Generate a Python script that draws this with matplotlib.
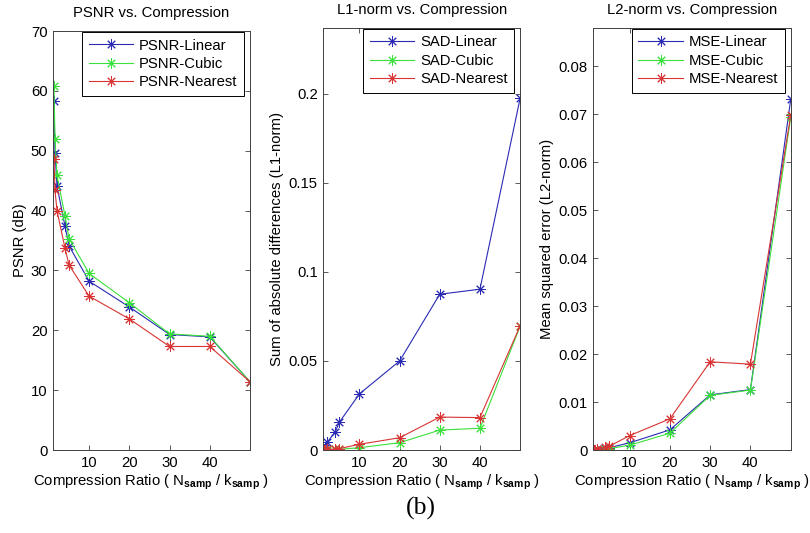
import matplotlib
matplotlib.use("Agg")
import matplotlib.pyplot as plt

plt.rcParams['font.family'] = ['Liberation Sans', 'DejaVu Sans']
plt.rcParams['mathtext.fontset'] = 'custom'
plt.rcParams['mathtext.rm'] = 'Liberation Sans'
plt.rcParams['mathtext.it'] = 'Liberation Sans:italic'
plt.rcParams['mathtext.bf'] = 'Liberation Sans:bold'

# compression ratios (N_samp / k_samp)
ratio = [1.25, 1.5, 2, 4, 5, 10, 20, 30, 40, 50]
x_ticks = [10, 20, 30, 40]

# PSNR in dB
psnr_linear = [58.3, 49.7, 44.1, 37.4, 34.1, 28.2, 23.9, 19.3, 18.9, 11.4]
psnr_cubic = [60.9, 51.9, 45.9, 39.1, 35.3, 29.5, 24.6, 19.4, 19.0, 11.4]
psnr_nearest = [48.6, 43.4, 40.0, 33.7, 30.9, 25.7, 21.9, 17.3, 17.3, 11.4]

# sum of absolute differences (L1-norm)
sad_linear = [0.0004, 0.0011, 0.0044, 0.0103, 0.0156, 0.0315, 0.0500, 0.0875, 0.0903, 0.1975]
sad_cubic = [0.0001, 0.0001, 0.0002, 0.0003, 0.0004, 0.0013, 0.0041, 0.0112, 0.0122, 0.0695]
sad_nearest = [0.0001, 0.0002, 0.0003, 0.0006, 0.0008, 0.0032, 0.0069, 0.0185, 0.0182, 0.0697]

# mean squared error (L2-norm)
mse_linear = [0.0001, 0.0001, 0.0002, 0.0004, 0.0005, 0.0015, 0.0042, 0.0115, 0.0126, 0.0731]
mse_cubic = [0.0001, 0.0001, 0.0001, 0.0002, 0.0003, 0.0010, 0.0035, 0.0114, 0.0125, 0.0694]
mse_nearest = [0.0001, 0.0001, 0.0002, 0.0006, 0.0008, 0.0030, 0.0065, 0.0184, 0.0179, 0.0698]

col_lin = '#2a2ab4'
col_cub = '#3ce03c'
col_nea = '#d83434'
star = (8, 2, 0)  # asterisk marker, 8 spokes

fs = 10.7
xlab = r'Compression Ratio ( N$_{\mathbf{samp}}$ / k$_{\mathbf{samp}}$ )'

panels = [
    ('PSNR vs. Compression', 'PSNR (dB)', 'PSNR',
     (psnr_linear, psnr_cubic, psnr_nearest), (0, 70), [0, 10, 20, 30, 40, 50, 60, 70],
     [0.0654, 0.1557, 0.2432, 0.7860]),
    ('L1-norm vs. Compression', 'Sum of absolute differences (L1-norm)', 'SAD',
     (sad_linear, sad_cubic, sad_nearest), (0, 0.237), [0, 0.05, 0.1, 0.15, 0.2],
     [0.3991, 0.1557, 0.2430, 0.7917]),
    ('L2-norm vs. Compression', 'Mean squared error (L2-norm)', 'MSE',
     (mse_linear, mse_cubic, mse_nearest), (0, 0.088),
     [0, 0.01, 0.02, 0.03, 0.04, 0.05, 0.06, 0.07, 0.08],
     [0.7325, 0.1557, 0.2437, 0.7917]),
]

fig = plt.figure(figsize=(8.1, 5.33), dpi=100, facecolor='white')

for title, ylabel, prefix, series, ylim, yticks, pos in panels:
    ax = fig.add_axes(pos)
    for vals, col, name in zip(series, (col_lin, col_cub, col_nea),
                               ('Linear', 'Cubic', 'Nearest')):
        ax.plot(ratio, vals, '-', marker=star, color=col, lw=0.8, ms=7.5,
                mew=0.7, label=f'{prefix}-{name}')
    ax.set_xlim(1, 50)
    ax.set_ylim(*ylim)
    ax.set_xticks(x_ticks)
    ax.set_yticks(yticks)
    ax.set_yticklabels([f'{v:g}' for v in yticks])
    ax.tick_params(direction='in', top=True, right=True, length=3.5,
                   width=0.6, labelsize=fs, color='#404040', pad=4)
    for sp in ax.spines.values():
        sp.set_color('#404040')
        sp.set_linewidth(0.7)
    ax.set_title(title, fontsize=fs, pad=10)
    ax.set_xlabel(xlab, fontsize=fs, labelpad=2)
    ax.set_ylabel(ylabel, fontsize=fs, labelpad=3)
    leg = ax.legend(loc='upper right', bbox_to_anchor=(0.975, 1.0),
                    fontsize=fs, handlelength=3.0, borderaxespad=0.05,
                    fancybox=False, framealpha=1, edgecolor='black',
                    borderpad=0.45, labelspacing=0.3, handletextpad=0.4)
    leg.get_frame().set_linewidth(0.7)

fig.text(0.519, 0.046, '(b)', ha='center', va='center', fontsize=18.5,
         family=['Liberation Serif', 'DejaVu Serif'])

fig.savefig('out.png', dpi=100, facecolor='white')
